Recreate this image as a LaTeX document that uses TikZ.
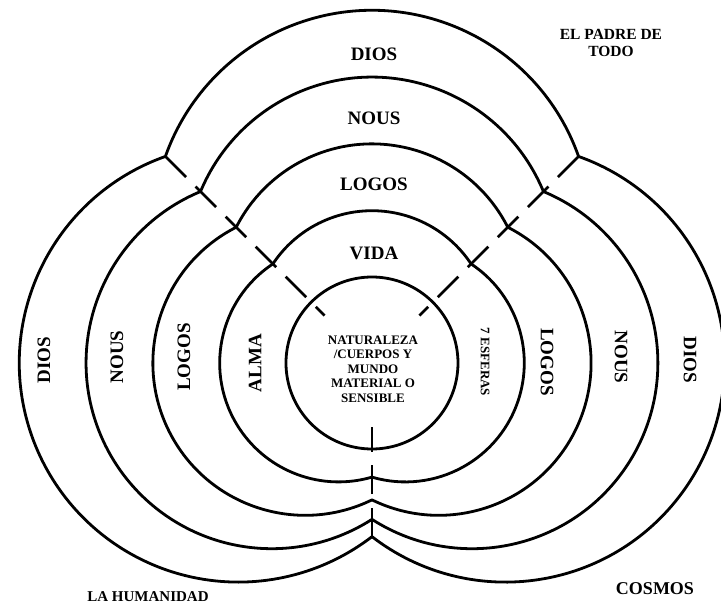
\documentclass[tikz,border=0pt]{standalone}
\usepackage{fontspec}
\setmainfont{Liberation Serif}
\begin{document}
\begin{tikzpicture}[x=1pt,y=1pt,
  ring/.style={line width=2.8pt, line join=round},
  sep/.style={line width=2.8pt, dash pattern=on 29pt off 13.5pt},
  lab/.style={font=\bfseries\fontsize{19}{19}\selectfont, inner sep=0pt},
  smalllab/.style={font=\bfseries\fontsize{13}{14.5}\selectfont, align=center, inner sep=0pt},
  cornerlab/.style={font=\bfseries\fontsize{15.5}{17}\selectfont, align=center, inner sep=0pt}]
\useasboundingbox (-372,-245) rectangle (349,363);
\coordinate (O) at (0,0);
% central circle
\draw[ring] (O) circle[radius=86];
% four trefoil rings
\foreach \k in {1,2,3,4}{
  \pgfmathsetmacro{\sK}{0.334*\k}
  \pgfmathsetmacro{\rK}{0.855+0.334*\k}
  \pgfmathsetmacro{\dK}{(sqrt(2)*\sK+sqrt(4*\rK*\rK-2*\sK*\sK))/2}
  \pgfmathsetmacro{\aK}{\dK/sqrt(2)}
  \pgfmathsetmacro{\hK}{sqrt(\rK*\rK-\sK*\sK)}
  \pgfmathsetmacro{\tK}{atan2(\aK-\sK,\aK)}
  \pgfmathsetmacro{\tKb}{180-\tK}
  \pgfmathsetmacro{\pK}{atan2(\aK,\sK-\aK)}
  \pgfmathsetmacro{\pKb}{180-\pK}
  \pgfmathsetmacro{\bK}{360+atan2(-\hK,\sK)}
  \pgfmathsetmacro{\bKb}{180-\bK}
  \pgfmathsetmacro{\RK}{100*\rK}
  \pgfmathsetmacro{\SK}{100*\sK}
  \draw[ring] (0,\SK) ++(\tK:\RK)
    arc[start angle=\tK, end angle=\tKb, radius=\RK]
    arc[start angle=\pK, end angle=\bK, radius=\RK]
    arc[start angle=\bKb, end angle=\pKb, radius=\RK] -- cycle;
}
% dashed separators
\coordinate (jl) at (135:292);
\coordinate (jr) at (45:292);
\coordinate (jb) at (270:173.6);
\coordinate (il) at (135:67);
\coordinate (ir) at (45:67);
\coordinate (ib) at (270:64);
\draw[sep] (jl) -- (il);
\draw[sep] (jr) -- (ir);
\draw[sep] (jb) -- (ib);
% top labels
\node[lab] (dios1) at (2,309) {DIOS};
\node[lab] (nous1) at (2,245) {NOUS};
\node[lab] (logos1) at (2,179) {LOGOS};
\node[lab] (vida) at (2,110) {VIDA};
% left labels
\node[lab, rotate=90] (dios2) at (-328,3) {DIOS};
\node[lab, rotate=90] (nous2) at (-255,6) {NOUS};
\node[lab, rotate=90] (logos2) at (-188,6) {LOGOS};
\node[lab, rotate=90] (alma) at (-117,0) {ALMA};
% right labels
\node[smalllab, rotate=-90] (esferas) at (113,1) {7 ESFERAS};
\node[lab, rotate=-90] (logos3) at (175,1) {LOGOS};
\node[lab, rotate=-90] (nous3) at (249,6) {NOUS};
\node[lab, rotate=-90] (dios3) at (318,3) {DIOS};
% centre
\node[smalllab] (nat) at (1,-6) {NATURALEZA\\/CUERPOS Y\\MUNDO\\MATERIAL O\\SENSIBLE};
% corner labels
\node[cornerlab] (padre) at (239,320) {EL PADRE DE\\TODO};
\node[font=\bfseries\fontsize{15}{15}\selectfont, inner sep=0pt] (hum) at (-224,-234) {LA HUMANIDAD};
\node[font=\bfseries\fontsize{18}{18}\selectfont, inner sep=0pt] (cosmos) at (283,-226) {COSMOS};
\end{tikzpicture}
\end{document}
